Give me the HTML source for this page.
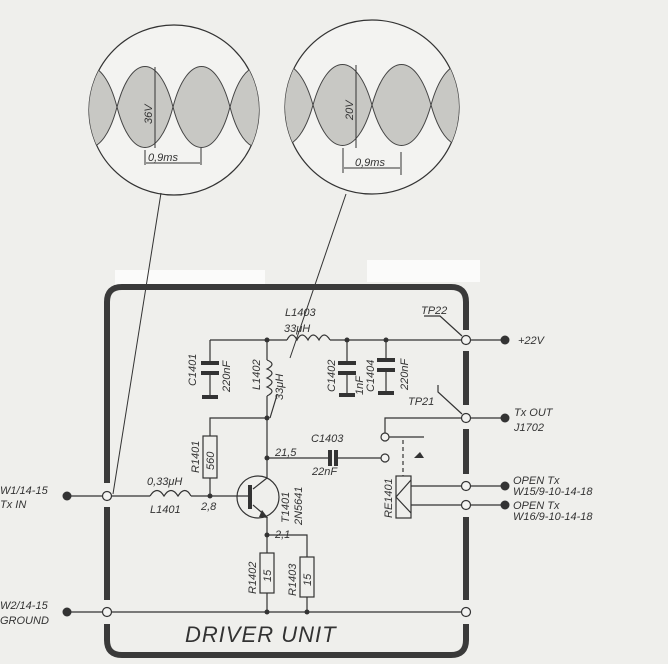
<!DOCTYPE html>
<html><head><meta charset="utf-8"><style>
html,body{margin:0;padding:0;background:#efefec;}
svg{display:block;}
text{font-family:"Liberation Sans",sans-serif;font-style:italic;fill:#333;}
</style></head><body>
<svg width="668" height="664" viewBox="0 0 668 664" xmlns="http://www.w3.org/2000/svg">
<rect width="668" height="664" fill="#efefec"/>
<rect x="115" y="270" width="150" height="16" fill="#fbfbfa"/>
<rect x="367" y="260" width="113" height="22" fill="#fbfbfa"/>
<defs>
<clipPath id="c1"><circle cx="174" cy="110" r="85"/></clipPath>
<clipPath id="c2"><circle cx="372" cy="107" r="87"/></clipPath>
</defs>
<!-- scope circles -->
<circle cx="174" cy="110" r="85" fill="#f3f3f1" stroke="#333" stroke-width="1.2"/>
<g clip-path="url(#c1)" fill="#c8c8c4" stroke="#444" stroke-width="1">
<path d="M61,107 C75,53 103,53 117,107 C103,161 75,161 61,107Z"/>
<path d="M117,107 C131,53 159,53 173,107 C159,161 131,161 117,107Z"/>
<path d="M173,107 C187,53 216,53 230,107 C216,161 187,161 173,107Z"/>
<path d="M230,107 C244,53 272,53 286,107 C272,161 244,161 230,107Z"/>
</g>
<g stroke="#333" stroke-width="1" fill="none">
<line x1="155" y1="67" x2="155" y2="148"/><line x1="145" y1="150" x2="145" y2="165"/><line x1="201" y1="148" x2="201" y2="165"/><line x1="146" y1="163" x2="200" y2="163"/>
</g>
<text x="0" y="0" font-size="11" transform="translate(152,124) rotate(-90)">36V</text>
<text x="148" y="161" font-size="11">0,9ms</text>
<circle cx="372" cy="107" r="87" fill="#f3f3f1" stroke="#333" stroke-width="1.2"/>
<g clip-path="url(#c2)" fill="#c8c8c4" stroke="#444" stroke-width="1">
<path d="M254,105 C269,51 298,51 313,105 C298,159 269,159 254,105Z"/>
<path d="M313,105 C328,51 357,51 372,105 C357,159 328,159 313,105Z"/>
<path d="M372,105 C387,51 416,51 431,105 C416,159 387,159 372,105Z"/>
<path d="M431,105 C446,51 475,51 490,105 C475,159 446,159 431,105Z"/>
</g>
<g stroke="#333" stroke-width="1" fill="none">
<line x1="356" y1="65" x2="356" y2="148"/><line x1="343" y1="148" x2="343" y2="173"/><line x1="401" y1="152" x2="401" y2="175"/><line x1="344" y1="168" x2="400" y2="168"/>
</g>
<text font-size="11" transform="translate(353,120) rotate(-90)">20V</text>
<text x="355" y="166" font-size="11">0,9ms</text>
<!-- pointer lines -->
<line x1="161" y1="193" x2="113" y2="494" stroke="#333" stroke-width="1"/>
<line x1="346" y1="194" x2="290" y2="358" stroke="#333" stroke-width="1"/>
<!-- box border -->
<g stroke="#3a3a3a" stroke-width="6" fill="none">
<path d="M107,483 V302 Q107,287 122,287 H451 Q466,287 466,302 V330"/>
<line x1="107" y1="507" x2="107" y2="600"/>
<path d="M107,624 V640 Q107,655 122,655 H451 Q466,655 466,640 V624"/>
<line x1="466" y1="351" x2="466" y2="405"/>
<line x1="466" y1="429" x2="466" y2="474"/>
<line x1="466" y1="517" x2="466" y2="600"/>
</g>
<!-- wires -->
<g stroke="#333" stroke-width="1.2" fill="none">
<polyline points="210,340 287,340"/>
<polyline points="330,340 461,340"/>
<path d="M287,340 q5,-10 10,0 q5,-10 11,0 q5,-10 11,0 q5,-10 11,0"/>
<line x1="210" y1="340" x2="210" y2="363"/><line x1="210" y1="373" x2="210" y2="396"/>
<line x1="347" y1="340" x2="347" y2="363"/><line x1="347" y1="373" x2="347" y2="395"/>
<line x1="386" y1="340" x2="386" y2="360"/><line x1="386" y1="370" x2="386" y2="393"/>
<line x1="267" y1="340" x2="267" y2="360"/>
<path d="M267,360 q10,4 0,9 q10,4 0,9 q10,4 0,9 q10,4 0,9"/>
<line x1="267" y1="396" x2="267" y2="478"/>
<line x1="270" y1="418" x2="277" y2="395"/>
<polyline points="210,436 210,418 267,418"/>
<rect x="203" y="436" width="14" height="42"/>
<line x1="210" y1="478" x2="210" y2="496"/>
<line x1="112" y1="496" x2="150" y2="496"/>
<path d="M150,496 q7,-11 14,0 q7,-11 14,0 q7,-11 13,0"/>
<line x1="191" y1="496" x2="248" y2="496"/>
<circle cx="258" cy="497" r="21"/>
<line x1="267" y1="478" x2="253" y2="489"/>
<line x1="253" y1="505" x2="267" y2="517"/>
<line x1="267" y1="517" x2="267" y2="553"/>
<polyline points="267,535 307,535 307,557"/>
<rect x="260" y="553" width="14" height="40"/>
<rect x="300" y="557" width="14" height="40"/>
<line x1="267" y1="593" x2="267" y2="612"/><line x1="307" y1="597" x2="307" y2="612"/>
<line x1="112" y1="612" x2="461" y2="612"/>
<line x1="267" y1="458" x2="329" y2="458"/><line x1="336" y1="458" x2="381" y2="458"/>
<polyline points="385,433 385,418 461,418"/>
<line x1="389" y1="437" x2="424" y2="437"/>
<line x1="403" y1="440" x2="403" y2="476" stroke-dasharray="4,3"/>
<rect x="396" y="476" width="15" height="42"/>
<polyline points="411,480 396,497 411,513"/>
<line x1="411" y1="486" x2="461" y2="486"/><line x1="411" y1="505" x2="461" y2="505"/>
<line x1="471" y1="340" x2="505" y2="340"/><line x1="471" y1="418" x2="505" y2="418"/>
<line x1="471" y1="486" x2="505" y2="486"/><line x1="471" y1="505" x2="505" y2="505"/>
<line x1="67" y1="496" x2="102" y2="496"/><line x1="67" y1="612" x2="102" y2="612"/>
<polyline points="424,316 440,316 462,336"/>
<polyline points="438,385 438,392 462,414"/>
</g>
<g stroke="#333" stroke-width="4">
<line x1="201" y1="363" x2="219" y2="363"/><line x1="201" y1="373" x2="219" y2="373"/><line x1="202" y1="397" x2="218" y2="397"/>
<line x1="338" y1="363" x2="356" y2="363"/><line x1="338" y1="373" x2="356" y2="373"/><line x1="339" y1="395" x2="355" y2="395"/>
<line x1="377" y1="360" x2="395" y2="360"/><line x1="377" y1="370" x2="395" y2="370"/><line x1="378" y1="393" x2="394" y2="393"/>
<line x1="330" y1="450" x2="330" y2="466"/><line x1="336" y1="450" x2="336" y2="466"/>
<line x1="250" y1="485" x2="250" y2="509"/>
</g>
<path d="M262,510 L268,518 L259,517Z" fill="#333"/>
<path d="M414,458 L424,458 L420,452Z" fill="#333"/>
<g fill="#333">
<circle cx="267" cy="340" r="2.5"/><circle cx="347" cy="340" r="2.5"/><circle cx="386" cy="340" r="2.5"/>
<circle cx="267" cy="418" r="2.5"/><circle cx="267" cy="458" r="2.5"/><circle cx="210" cy="496" r="2.5"/>
<circle cx="267" cy="535" r="2.5"/><circle cx="267" cy="612" r="2.5"/><circle cx="307" cy="612" r="2.5"/>
<circle cx="505" cy="340" r="4.5"/><circle cx="505" cy="418" r="4.5"/><circle cx="505" cy="486" r="4.5"/><circle cx="505" cy="505" r="4.5"/>
<circle cx="67" cy="496" r="4.5"/><circle cx="67" cy="612" r="4.5"/>
</g>
<g fill="#f3f3f1" stroke="#333" stroke-width="1.2">
<circle cx="466" cy="340" r="4.5"/><circle cx="466" cy="418" r="4.5"/><circle cx="466" cy="486" r="4.5"/><circle cx="466" cy="505" r="4.5"/><circle cx="466" cy="612" r="4.5"/>
<circle cx="107" cy="496" r="4.5"/><circle cx="107" cy="612" r="4.5"/>
<circle cx="385" cy="437" r="4"/><circle cx="385" cy="458" r="4"/>
</g>
<!-- labels -->
<g font-size="11">
<text x="285" y="316">L1403</text>
<text x="284" y="332">33μH</text>
<text x="421" y="314">TP22</text>
<text x="408" y="405">TP21</text>
<text x="518" y="344">+22V</text>
<text x="514" y="416">Tx OUT</text>
<text x="514" y="431">J1702</text>
<text x="513" y="484">OPEN Tx</text>
<text x="513" y="495">W15/9-10-14-18</text>
<text x="513" y="509">OPEN Tx</text>
<text x="513" y="520">W16/9-10-14-18</text>
<text x="0" y="494">W1/14-15</text>
<text x="0" y="508">Tx IN</text>
<text x="0" y="609">W2/14-15</text>
<text x="0" y="624">GROUND</text>
<text x="147" y="485">0,33μH</text>
<text x="150" y="513">L1401</text>
<text x="201" y="510">2,8</text>
<text x="275" y="456">21,5</text>
<text x="311" y="442">C1403</text>
<text x="312" y="475">22nF</text>
<text x="275" y="538">2,1</text>
<text transform="translate(196,386) rotate(-90)">C1401</text>
<text transform="translate(230,392) rotate(-90)">220nF</text>
<text transform="translate(260,390) rotate(-90)">L1402</text>
<text transform="translate(283,400) rotate(-90)">33μH</text>
<text transform="translate(335,392) rotate(-90)">C1402</text>
<text transform="translate(363,395) rotate(-90)">1nF</text>
<text transform="translate(374,392) rotate(-90)">C1404</text>
<text transform="translate(408,390) rotate(-90)">220nF</text>
<text transform="translate(199,473) rotate(-90)">R1401</text>
<text transform="translate(214,470) rotate(-90)">560</text>
<text transform="translate(289,523) rotate(-90)">T1401</text>
<text transform="translate(302,525) rotate(-90)">2N5641</text>
<text transform="translate(392,518) rotate(-90)">RE1401</text>
<text transform="translate(256,594) rotate(-90)">R1402</text>
<text transform="translate(271,582) rotate(-90)">15</text>
<text transform="translate(296,596) rotate(-90)">R1403</text>
<text transform="translate(311,586) rotate(-90)">15</text>
</g>
<text x="185" y="642" font-size="22" letter-spacing="1" style="font-weight:normal">DRIVER  UNIT</text>
</svg>
</body></html>
